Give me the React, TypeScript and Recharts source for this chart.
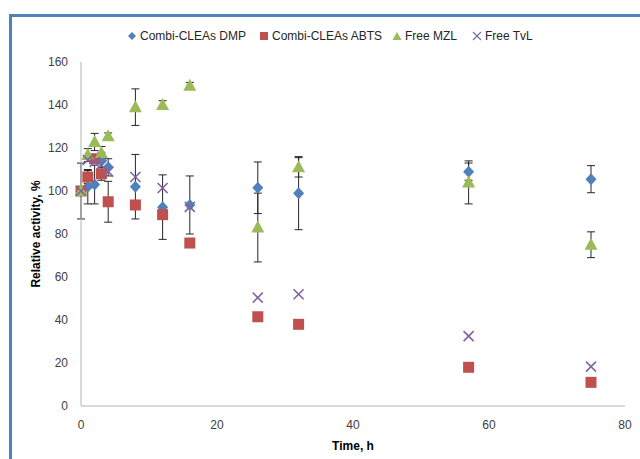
import React from "react";
import { ScatterChart, Scatter, XAxis, YAxis, ErrorBar, Label } from "recharts";

const times = [0, 1, 2, 3, 4, 8, 12, 16, 26, 32, 57, 75];
const dmpValues = [100, 102, 103, 114, 111, 102, 92.5, 93.5, 101.5, 99, 109, 105.5];
const dmpErrors = [13, 8, 9, 4, 4, 15, 15, 13.5, 12, 17, 4, 6.3];
const abtsValues = [100, 106.5, 115, 108, 95, 93.5, 89, 75.8, 41.5, 38, 18, 11];
const abtsErrors = [null, 3, 2, 3, 9.5, null, null, null, null, null, null, null];
const mzlValues = [100, 116.7, 122.8, 117.7, 125.5, 139, 140, 149, 83, 111, 104, 75];
const mzlErrors = [null, 3, 4, 3, 1.5, 8.5, 2, 1.5, 16, 4.5, 10, 6];
const tvlValues = [100, 114.4, 113.5, 112, 109, 106.5, 101.4, 92.6, 50.4, 52, 32.5, 18.3];

const xTicks = [0, 20, 40, 60, 80];
const yTicks = [0, 20, 40, 60, 80, 100, 120, 140, 160];

const seriesNames = ["Combi-CLEAs DMP", "Combi-CLEAs ABTS", "Free MZL", "Free TvL"];
const colors = ["#4F81BD", "#C0504D", "#9BBB59", "#8064A2"];

const build = (vals: number[], errs?: (number | null)[]) =>
  times.map((t, i) => ({ x: t, y: vals[i], err: errs ? errs[i] : null }));

const dmpData = build(dmpValues, dmpErrors);
const abtsData = build(abtsValues, abtsErrors);
const mzlData = build(mzlValues, mzlErrors);
const tvlData = build(tvlValues);

const DiamondShape = (p: any) => {
  const { cx, cy } = p;
  return (
    <polygon
      points={`${cx},${cy - 6} ${cx + 5.5},${cy} ${cx},${cy + 6} ${cx - 5.5},${cy}`}
      fill={colors[0]}
    />
  );
};
const SquareShape = (p: any) => {
  const { cx, cy } = p;
  return <rect x={cx - 5.5} y={cy - 5.5} width={11} height={11} fill={colors[1]} />;
};
const TriangleShape = (p: any) => {
  const { cx, cy } = p;
  return (
    <polygon
      points={`${cx},${cy - 7} ${cx + 6.5},${cy + 5} ${cx - 6.5},${cy + 5}`}
      fill={colors[2]}
    />
  );
};
const XShape = (p: any) => {
  const { cx, cy } = p;
  const d = 5;
  return (
    <g stroke={colors[3]} strokeWidth={1.6}>
      <line x1={cx - d} y1={cy - d} x2={cx + d} y2={cy + d} />
      <line x1={cx - d} y1={cy + d} x2={cx + d} y2={cy - d} />
    </g>
  );
};

const legendIcon = (i: number) => {
  if (i === 0)
    return (
      <svg width={10} height={10}>
        <polygon points="5,1 9,5 5,9 1,5" fill={colors[0]} />
      </svg>
    );
  if (i === 1)
    return (
      <svg width={10} height={10}>
        <rect x={1} y={1} width={8} height={8} fill={colors[1]} />
      </svg>
    );
  if (i === 2)
    return (
      <svg width={10} height={10}>
        <polygon points="5,1 9.5,9 0.5,9" fill={colors[2]} />
      </svg>
    );
  return (
    <svg width={10} height={10}>
      <g stroke={colors[3]} strokeWidth={1.1}>
        <line x1={1} y1={1} x2={9} y2={9} />
        <line x1={1} y1={9} x2={9} y2={1} />
      </g>
    </svg>
  );
};

const legendLeft = [127, 259, 392, 472];

const tickStyle = { fill: "#404040", fontSize: 12, fontFamily: "Liberation Sans, Arial, sans-serif" };

export default function App() {
  return (
    <div
      style={{
        position: "absolute",
        left: 0,
        top: 0,
        width: 640,
        height: 459,
        overflow: "hidden",
        background: "#fff",
        fontFamily: "Liberation Sans, Arial, sans-serif",
      }}
    >
      <div
        style={{
          position: "absolute",
          left: 9,
          top: 14,
          width: 700,
          height: 600,
          borderLeft: "3px solid #4F81BD",
          borderTop: "3px solid #4F81BD",
        }}
      />
      <div style={{ position: "absolute", left: 0, top: 0 }}>
        <ScatterChart width={640} height={459} margin={{ top: 62, right: 15, bottom: 0, left: 0 }}>
          <XAxis
            type="number"
            dataKey="x"
            domain={[0, 80]}
            ticks={xTicks}
            tickLine={false}
            tickMargin={8}
            height={53}
            stroke="#b3b3b3"
            tick={tickStyle}
          >
            <Label
              value="Time, h"
              position="insideBottom"
              offset={9}
              style={{ fontWeight: "bold", fontSize: 12, fill: "#000" }}
            />
          </XAxis>
          <YAxis
            type="number"
            dataKey="y"
            domain={[0, 160]}
            ticks={yTicks}
            tickLine={false}
            tickMargin={7}
            width={81}
            stroke="#b3b3b3"
            tick={tickStyle}
          >
            <Label
              content={(props: any) => {
                const vb = props.viewBox || { y: 62, height: 344 };
                const cy = vb.y + vb.height / 2;
                return (
                  <text
                    x={40}
                    y={cy}
                    transform={`rotate(-90, 40, ${cy})`}
                    textAnchor="middle"
                    fontWeight="bold"
                    fontSize={12}
                    fill="#000"
                  >
                    Relative activity, %
                  </text>
                );
              }}
            />
          </YAxis>
          <Scatter name={seriesNames[0]} data={dmpData} shape={DiamondShape} isAnimationActive={false}>
            <ErrorBar dataKey="err" direction="y" width={4} stroke="#262626" strokeWidth={1} />
          </Scatter>
          <Scatter name={seriesNames[1]} data={abtsData} shape={SquareShape} isAnimationActive={false}>
            <ErrorBar dataKey="err" direction="y" width={4} stroke="#262626" strokeWidth={1} />
          </Scatter>
          <Scatter name={seriesNames[2]} data={mzlData} shape={TriangleShape} isAnimationActive={false}>
            <ErrorBar dataKey="err" direction="y" width={4} stroke="#262626" strokeWidth={1} />
          </Scatter>
          <Scatter name={seriesNames[3]} data={tvlData} shape={XShape} isAnimationActive={false} />
        </ScatterChart>
      </div>
      {seriesNames.map((n, i) => (
        <div
          key={n}
          style={{
            position: "absolute",
            left: legendLeft[i],
            top: 28,
            display: "flex",
            alignItems: "center",
            gap: 3,
            fontSize: 12,
            color: "#262626",
            lineHeight: "16px",
            whiteSpace: "nowrap",
          }}
        >
          {legendIcon(i)}
          <span>{n}</span>
        </div>
      ))}
    </div>
  );
}
